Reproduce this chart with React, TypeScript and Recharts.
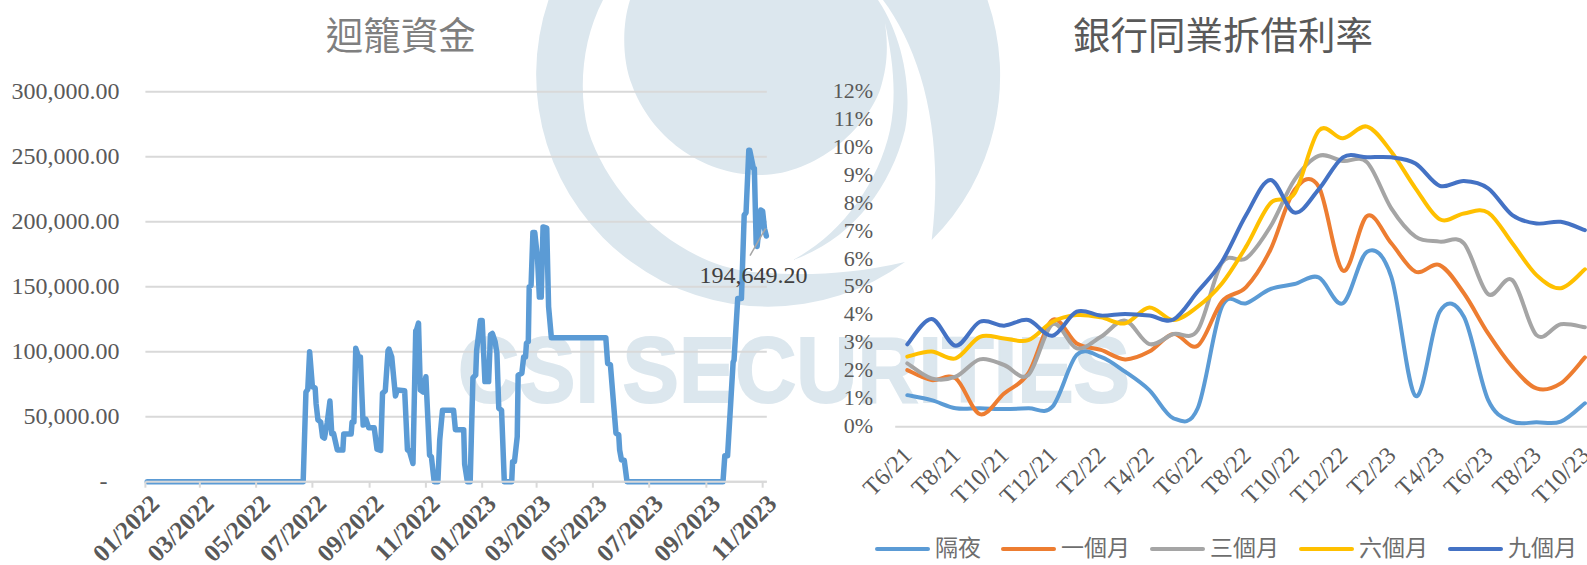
import { CartesianGrid, Legend, Line, LineChart, XAxis, YAxis } from "recharts"

const FONT = '"Liberation Serif", "Noto Sans CJK TC", serif'
const TEXT = "#595959"
const GRID = "#D9D9D9"
const WATERMARK = "#DCE7EE"

// left chart: days since 01/01/2022 and the amount on that day
const days = [
  2, 171, 174, 176, 178, 181, 184, 185, 187, 190, 192, 194, 197, 200, 202, 204, 208, 214, 215, 223, 224, 226, 228, 231,
  233, 236, 239, 242, 248, 251, 255, 257, 260, 263, 264, 267, 271, 273, 281, 284, 286, 290, 293, 294, 296, 298, 301,
  304, 308, 310, 313, 317, 319, 322, 334, 336, 345, 346, 349, 352, 355, 358, 359, 363, 365, 368, 372, 374, 376, 379,
  381, 383, 386, 389, 397, 398, 400, 403, 404, 408, 410, 412, 413, 415, 416, 418, 420, 422, 425, 427, 429, 431, 435,
  437, 440, 499, 501, 504, 510, 513, 514, 516, 519, 522, 626, 628, 631, 637, 638, 642, 646, 649, 651, 654, 655, 659,
  660, 662, 663, 667, 669, 671, 673,
]
const amounts = [
  0, 0, 69000, 71000, 100000, 73000, 72000, 60000, 47500, 45800, 34600, 33500, 45000, 62000, 37000, 37000, 24400, 24400,
  36700, 36700, 46000, 46000, 102600, 96000, 96000, 43600, 48000, 41500, 41500, 25000, 24000, 68000, 70000, 100800,
  102000, 96000, 66000, 70600, 70000, 24400, 24000, 14000, 116000, 117000, 122000, 70500, 69000, 80800, 20500, 19000, 0,
  0, 32000, 55000, 55000, 40000, 40000, 13600, 0, 0, 80000, 82000, 101000, 124000, 124000, 77000, 77000, 113000, 114000,
  107700, 99000, 56500, 55000, 0, 0, 15400, 15400, 34600, 82000, 83400, 96000, 96000, 106600, 107700, 150000, 151000,
  191600, 191600, 172000, 142000, 142000, 196000, 195000, 134600, 110800, 110800, 91000, 90000, 37400, 36000, 24400,
  16700, 16500, 0, 0, 20000, 20000, 92000, 93600, 141000, 141000, 205000, 207000, 255000, 255000, 241000, 241000, 183000,
  181000, 209000, 208000, 194649.2, 189000,
]
const dayTicks = [0, 59, 120, 181, 243, 304, 365, 424, 485, 546, 608, 669]
const dayLabels = [
  "01/2022", "03/2022", "05/2022", "07/2022", "09/2022", "11/2022",
  "01/2023", "03/2023", "05/2023", "07/2023", "09/2023", "11/2023",
]
const amountTicks = [0, 50000, 100000, 150000, 200000, 250000, 300000]
const amountData = days.map((day, i) => ({ day, amount: amounts[i] }))
const lastAmountDay = 671

// right chart: monthly rates in percent
const months = [
  "T6/21", "T7/21", "T8/21", "T9/21", "T10/21", "T11/21", "T12/21", "T1/22", "T2/22", "T3/22", "T4/22", "T5/22", "T6/22",
  "T7/22", "T8/22", "T9/22", "T10/22", "T11/22", "T12/22", "T1/23", "T2/23", "T3/23", "T4/23", "T5/23", "T6/23", "T7/23",
  "T8/23", "T9/23", "T10/23",
]
const overnight = [
  1.13, 0.95, 0.66, 0.66, 0.63, 0.66, 0.72, 2.57, 2.5, 1.97, 1.31, 0.3, 0.66, 4.3, 4.42, 4.93, 5.11, 5.35, 4.42, 6.27,
  5.37, 1.1, 4.12, 3.94, 0.96, 0.18, 0.16, 0.18, 0.84,
]
const oneMonth = [
  2.03, 1.67, 1.73, 0.45, 1.19, 1.91, 3.82, 2.98, 2.75, 2.41, 2.69, 3.32, 2.9, 4.48, 5.0, 6.33, 8.48, 8.6, 5.59, 7.55,
  6.57, 5.55, 5.79, 4.78, 3.34, 2.15, 1.37, 1.55, 2.48,
]
const threeMonth = [
  2.27, 1.73, 1.79, 2.41, 2.21, 1.85, 3.67, 2.81, 3.22, 3.8, 2.96, 3.32, 3.46, 5.87, 6.03, 7.16, 8.84, 9.7, 9.52, 9.47,
  7.82, 6.81, 6.63, 6.57, 4.75, 5.25, 3.28, 3.67, 3.56,
]
const sixMonth = [
  2.51, 2.69, 2.45, 3.22, 3.16, 3.1, 3.76, 4.0, 3.92, 3.7, 4.27, 3.82, 4.3, 5.13, 6.45, 8.0, 8.36, 10.6, 10.33, 10.75,
  9.85, 8.54, 7.43, 7.64, 7.67, 6.57, 5.43, 4.96, 5.64,
]
const nineMonth = [
  2.95, 3.86, 2.9, 3.76, 3.62, 3.82, 3.26, 4.12, 3.98, 4.04, 3.98, 3.84, 4.84, 5.91, 7.58, 8.84, 7.67, 8.5, 9.65, 9.65,
  9.65, 9.43, 8.63, 8.8, 8.54, 7.58, 7.28, 7.34, 7.04,
]
const rateTicks = [0, 1, 2, 3, 4, 5, 6, 7, 8, 9, 10, 11, 12]
const rateData = months.map((month, i) => ({
  month,
  overnight: overnight[i],
  oneMonth: oneMonth[i],
  threeMonth: threeMonth[i],
  sixMonth: sixMonth[i],
  nineMonth: nineMonth[i],
}))

// Excel style smoothed line, recharts takes a d3 curve factory for type
function excelSmooth(context: any) {
  let pts: number[][] = []
  return {
    areaStart() {},
    areaEnd() {},
    lineStart() {
      pts = []
    },
    point(x: number, y: number) {
      pts.push([x, y])
    },
    lineEnd() {
      pts.forEach((p, i) => {
        if (i === 0) {
          context.moveTo(p[0], p[1])
          return
        }
        const a = pts[Math.max(i - 2, 0)]
        const b = pts[i - 1]
        const d = pts[Math.min(i + 1, pts.length - 1)]
        context.bezierCurveTo(
          b[0] + (p[0] - a[0]) / 6,
          b[1] + (p[1] - a[1]) / 6,
          p[0] - (d[0] - b[0]) / 6,
          p[1] - (d[1] - b[1]) / 6,
          p[0],
          p[1],
        )
      })
    },
  }
}

function amountLabel(props: any) {
  if (days[props.index] !== lastAmountDay) return null
  const { x, y, value } = props
  return (
    <g>
      <line x1={x + 1} y1={y} x2={x - 14.5} y2={y + 27} stroke="#A6A6A6" strokeWidth={1.5} />
      <text x={x - 11} y={y + 54} textAnchor="middle" fontSize={24} fontFamily={FONT} fill="#404040">
        {value.toLocaleString("en-US", { minimumFractionDigits: 2 })}
      </text>
    </g>
  )
}

function RateLegend({ payload }: any) {
  return (
    <div style={{ display: "flex", alignItems: "center", fontFamily: FONT, fontSize: 23, color: "#6E6E6E", lineHeight: "30px" }}>
      {payload.map((item: any) => (
        <div key={item.value} style={{ display: "flex", alignItems: "center", marginRight: 20 }}>
          <div style={{ width: 55, height: 4, borderRadius: 2, background: item.color, marginRight: 5 }} />
          {item.value}
        </div>
      ))}
    </div>
  )
}

function Watermark() {
  return (
    <svg width={1587} height={565} style={{ position: "absolute", left: 0, top: 0 }}>
      <g fill={WATERMARK}>
        <path d="M548.5,0 A232,232 0 0 0 905,262 C850,275 800,276 753,272 C680,265 610,200 588,130 C578,90 582,40 603,0 Z" />
        <path d="M630,0 C622,25 622,60 632,85 C650,135 700,175 760,175 C815,175 865,130 880,90 C888,65 888,45 885,23 C893,60 897,95 890,130 C878,185 840,235 793,260 C850,240 890,190 905,130 C912,95 905,40 878,0 Z" />
        <path d="M883,0 C920,50 945,130 931.7,240 A232,232 0 0 0 987.5,0 Z" />
        <text
          x={458}
          y={402}
          fontFamily='"Liberation Sans"'
          fontWeight="bold"
          fontSize={92}
          textLength={672}
          lengthAdjust="spacingAndGlyphs"
          stroke={WATERMARK}
          strokeWidth={2}
        >
          CSI SECURITIES
        </text>
      </g>
    </svg>
  )
}

function Title({ text, center, color }: { text: string; center: number; color: string }) {
  return (
    <div
      style={{
        position: "absolute",
        left: center - 200,
        width: 400,
        top: 14,
        textAlign: "center",
        fontFamily: FONT,
        fontSize: 37.5,
        lineHeight: "46px",
        color,
      }}
    >
      {text}
    </div>
  )
}

function AmountChart() {
  return (
    <div style={{ position: "absolute", left: 0, top: 0 }}>
      <LineChart width={820} height={565} data={amountData} margin={{ top: 91.7, right: 53.2, bottom: 0, left: 0 }}>
        <CartesianGrid horizontal vertical={false} stroke={GRID} strokeWidth={2} />
        <XAxis
          dataKey="day"
          type="number"
          domain={[0, 673.5]}
          ticks={dayTicks}
          interval={0}
          height={83.3}
          angle={-45}
          textAnchor="end"
          tickSize={6}
          tickMargin={5}
          stroke={GRID}
          strokeWidth={2}
          tick={{ fontSize: 25, fontWeight: "bold", fontFamily: FONT, fill: TEXT, dx: 3 }}
          tickFormatter={(d: number) => dayLabels[dayTicks.indexOf(d)]}
        />
        <YAxis
          domain={[0, 300000]}
          ticks={amountTicks}
          interval={0}
          width={145.4}
          axisLine={false}
          tickLine={false}
          tickSize={0}
          tickMargin={26}
          tick={{ fontSize: 24, fontFamily: FONT, fill: TEXT, dy: -1 }}
          tickFormatter={(v: number) =>
            v === 0 ? "-\u00a0\u00a0" : v.toLocaleString("en-US", { minimumFractionDigits: 2 })
          }
        />
        <Line
          dataKey="amount"
          type="linear"
          stroke="#5B9BD5"
          strokeWidth={5.5}
          strokeLinecap="round"
          strokeLinejoin="round"
          dot={false}
          label={amountLabel}
          isAnimationActive={false}
        />
      </LineChart>
    </div>
  )
}

function RateChart() {
  const series = [
    { key: "overnight", name: "隔夜", color: "#5B9BD5" },
    { key: "oneMonth", name: "一個月", color: "#ED7D31" },
    { key: "threeMonth", name: "三個月", color: "#A5A5A5" },
    { key: "sixMonth", name: "六個月", color: "#FFC000" },
    { key: "nineMonth", name: "九個月", color: "#4472C4" },
  ]
  return (
    <div style={{ position: "absolute", left: 820, top: 0 }}>
      <LineChart width={777} height={565} data={rateData} margin={{ top: 91.7, right: 0, bottom: 0, left: 0 }}>
        <XAxis
          dataKey="month"
          interval={1}
          height={138.3}
          padding={{ left: 12.1, right: 12.1 }}
          angle={-45}
          textAnchor="end"
          tickLine={false}
          tickSize={0}
          tickMargin={18}
          stroke={GRID}
          strokeWidth={2}
          tick={{ fontSize: 24, fontFamily: FONT, fill: TEXT, dx: -6 }}
        />
        <YAxis
          domain={[0, 12]}
          ticks={rateTicks}
          interval={0}
          width={75.2}
          axisLine={false}
          tickLine={false}
          tickSize={0}
          tickMargin={22}
          tick={{ fontSize: 22, fontFamily: FONT, fill: TEXT, dy: -1.5 }}
          tickFormatter={(v: number) => `${v}%`}
        />
        {series.map((s) => (
          <Line
            key={s.key}
            dataKey={s.key}
            name={s.name}
            type={excelSmooth as any}
            stroke={s.color}
            strokeWidth={4}
            strokeLinecap="round"
            strokeLinejoin="round"
            dot={false}
            isAnimationActive={false}
          />
        ))}
        <Legend
          layout="horizontal"
          verticalAlign="middle"
          align="center"
          itemSorter={null}
          content={RateLegend}
          wrapperStyle={{ left: 55, top: 534, width: 722 }}
        />
      </LineChart>
    </div>
  )
}

export default function App() {
  return (
    <div style={{ position: "absolute", left: 0, top: 0, width: 1587, height: 565, overflow: "hidden", background: "#fff" }}>
      <Watermark />
      <Title text="迴籠資金" center={400.8} color="#7F7F7F" />
      <Title text="銀行同業拆借利率" center={1223} color={TEXT} />
      <AmountChart />
      <RateChart />
    </div>
  )
}
